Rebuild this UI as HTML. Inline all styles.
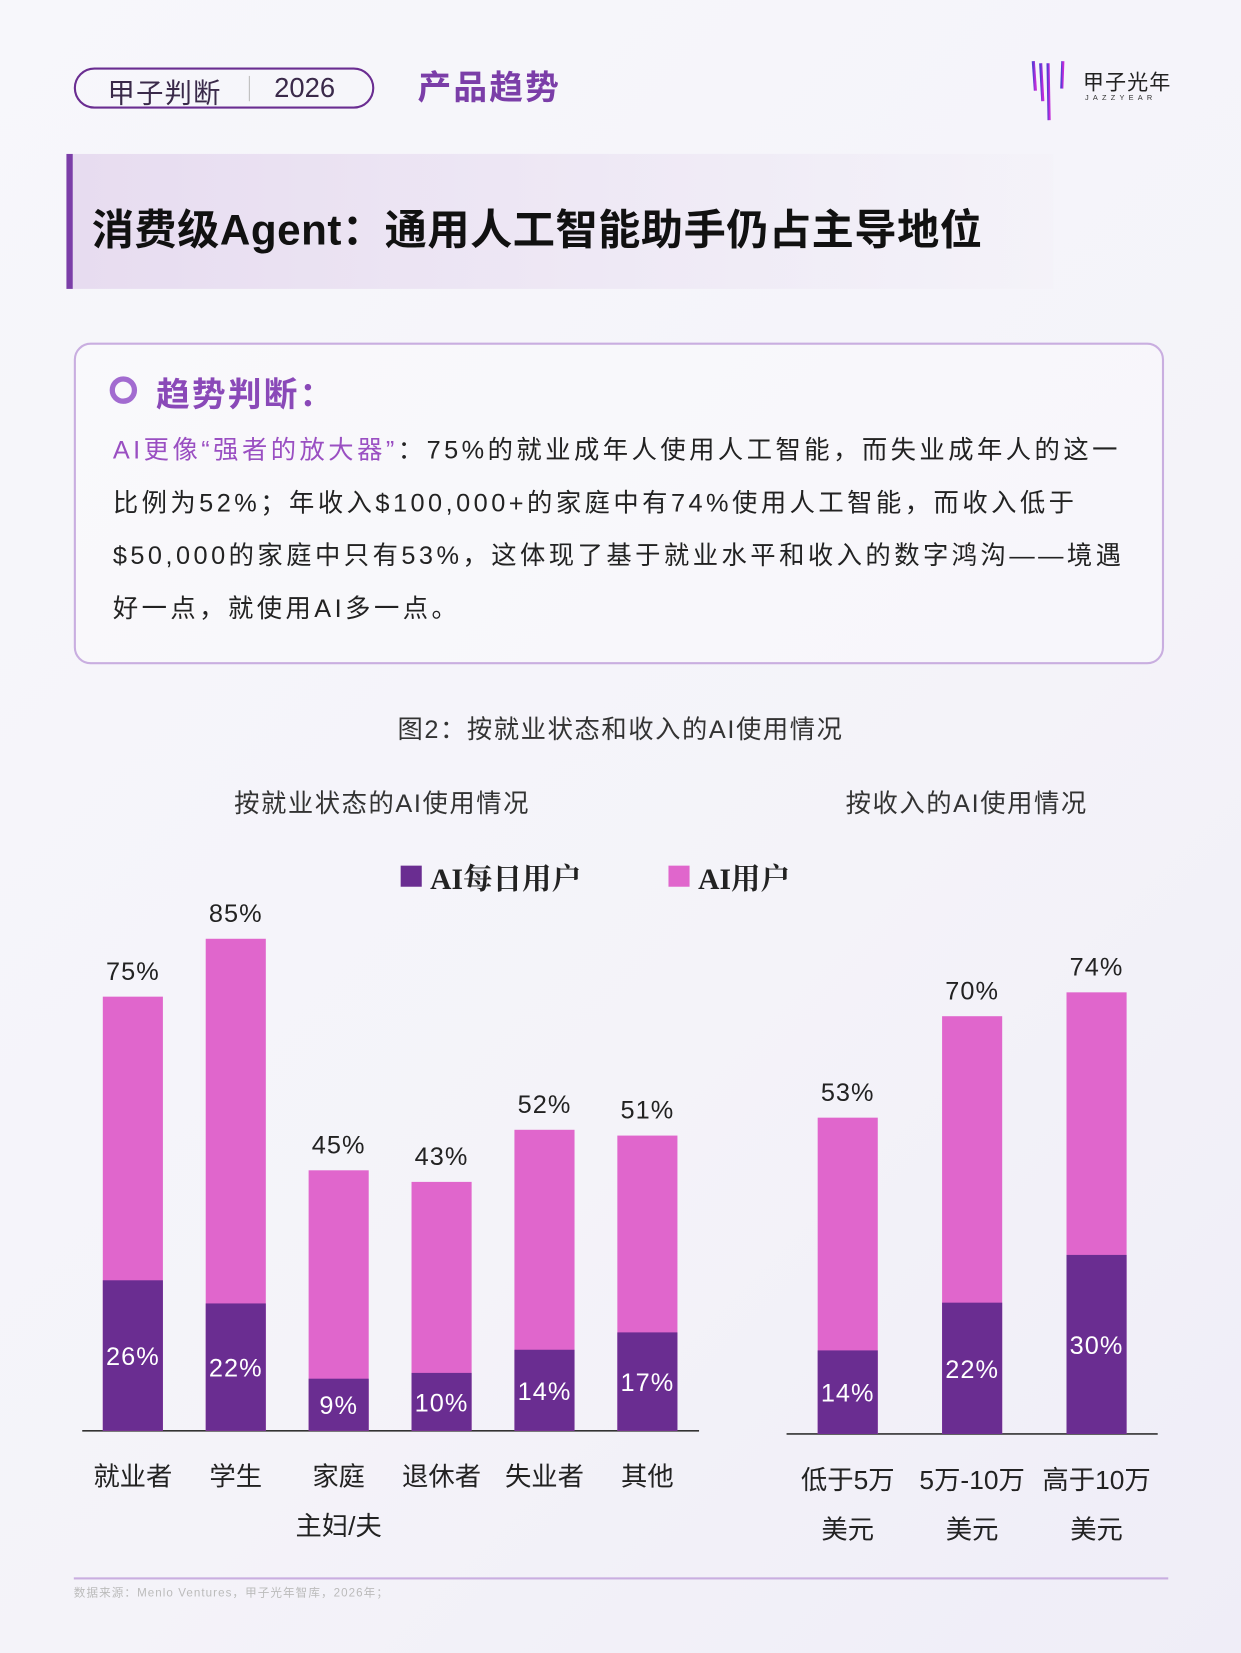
<!DOCTYPE html>
<html><head><meta charset="utf-8">
<style>
html,body{margin:0;padding:0;width:1241px;height:1653px;overflow:hidden;background:#f6f5fa;}
#page{position:absolute;left:0;top:0;width:1177px;height:1568px;transform:scale(1.05438);transform-origin:0 0;
background:linear-gradient(135deg,#f7f7fb 0%,#f4f3f9 60%,#efedf7 100%);font-family:"Liberation Sans","Noto Sans CJK SC",sans-serif;color:#222;}
.abs{position:absolute;}
</style></head><body>
<div id="page">
  <div class="abs" style="left:70px;top:64px;width:285px;height:39px;border:2px solid #6a2d91;border-radius:20px;box-sizing:border-box;">
    <span class="abs" style="left:30px;top:2px;font-size:26px;color:#3a2a4a;letter-spacing:1px;">甲子判断</span>
    <span class="abs" style="left:164px;top:6px;width:1px;height:24px;background:#bbb;"></span>
    <span class="abs" style="left:188px;top:2px;font-size:26px;color:#3a2a4a;">2026</span>
  </div>
  <div class="abs" style="left:396px;top:58px;font-size:32px;font-weight:bold;color:#7b3ea8;letter-spacing:2px;">产品趋势</div>
  <div class="abs" style="left:975px;top:56px;width:140px;height:60px;">
    <svg width="50" height="60" class="abs" style="left:0;top:0">
      <defs><linearGradient id="lg" x1="0" x2="1"><stop offset="0" stop-color="#5a3bd6"/><stop offset="1" stop-color="#c42bd8"/></linearGradient></defs>
      <g stroke="url(#lg)" stroke-width="3"><line x1="5" y1="2" x2="7" y2="30"/><line x1="12" y1="4" x2="14" y2="40"/><line x1="19" y1="4" x2="20" y2="58"/><line x1="26" y1="4" x2="26" y2="40"/><line x1="33" y1="2" x2="32" y2="28"/></g>
    </svg>
    <span class="abs" style="left:52px;top:6px;font-size:20px;color:#222;letter-spacing:1px;">甲子光年</span>
    <span class="abs" style="left:54px;top:34px;font-size:7px;letter-spacing:4px;color:#333;">JAZZYEAR</span>
  </div>
  <div class="abs" style="left:63px;top:146px;width:930px;height:128px;background:linear-gradient(90deg,#e7dcf0,rgba(240,236,246,0.2));border-left:6px solid #7b3ea8;">
    <div class="abs" style="left:18px;top:40px;font-size:40px;font-weight:bold;color:#111;letter-spacing:0.5px;">消费级Agent：通用人工智能助手仍占主导地位</div>
  </div>
  <div class="abs" style="left:70px;top:325px;width:1034px;height:305px;border:2px solid #c9aee0;border-radius:16px;box-sizing:border-box;background:rgba(255,255,255,0.3);">
    <div class="abs" style="left:32px;top:30px;width:26px;height:26px;border:5px solid #a26bd0;border-radius:50%;box-sizing:border-box;"></div>
    <div class="abs" style="left:76px;top:22px;font-size:32px;font-weight:bold;color:#8a49b8;letter-spacing:2px;">趋势判断：</div>
    <div class="abs" style="left:35px;top:76px;width:1000px;font-size:24px;line-height:50px;color:#222;letter-spacing:3.3px;white-space:nowrap;"><span style="color:#9a4fc2">AI更像“强者的放大器”</span>：75%的就业成年人使用人工智能，而失业成年人的这一<br>比例为52%；年收入$100,000+的家庭中有74%使用人工智能，而收入低于<br>$50,000的家庭中只有53%，这体现了基于就业水平和收入的数字鸿沟——境遇<br>好一点，就使用AI多一点。</div>
  </div>
  <div class="abs" style="left:0;width:1177px;top:672px;text-align:center;font-size:24px;color:#333;letter-spacing:1.5px;">图2：按就业状态和收入的AI使用情况</div>
  <div class="abs" style="left:222px;top:742px;font-size:24px;color:#333;letter-spacing:1.5px;">按就业状态的AI使用情况</div>
  <div class="abs" style="left:802px;top:742px;font-size:24px;color:#333;letter-spacing:1.5px;">按收入的AI使用情况</div>
  <div class="abs" style="left:380px;top:812px;font-size:28px;font-family:'Liberation Serif','Noto Serif CJK SC',serif;font-weight:bold;color:#222;">
    <span><span style="display:inline-block;width:20px;height:20px;background:#6a2d91;vertical-align:2px;margin-right:8px"></span>AI每日用户</span>
    <span style="margin-left:76px"><span style="display:inline-block;width:20px;height:20px;background:#e066cc;vertical-align:2px;margin-right:8px"></span>AI用户</span>
  </div>
  <svg id="chart" class="abs" style="left:0;top:0" width="1177" height="1568"></svg>
  <div class="abs" style="left:70px;top:1496px;width:1038px;height:2px;background:#c9aee0;"></div>
  <div class="abs" style="left:70px;top:1502px;font-size:11px;color:#bbb;letter-spacing:1px;">数据来源：Menlo Ventures，甲子光年智库，2026年；</div>
</div>
<script>
const empCats=[["就业者"],["学生"],["家庭","主妇/夫"],["退休者"],["失业者"],["其他"]];
const empUsers=[75,85,45,43,52,51];
const empDaily=[26,22,9,10,14,17];
const incCats=[["低于5万","美元"],["5万-10万","美元"],["高于10万","美元"]];
const incUsers=[53,70,74];
const incDaily=[14,22,30];
const svg=document.getElementById('chart');
const NS='http://www.w3.org/2000/svg';
function mk(t,a){const e=document.createElementNS(NS,t);for(const k in a)e.setAttribute(k,a[k]);svg.appendChild(e);return e;}
function draw(cats,users,daily,x0,step,base,ppu,axL,axR,prefix){
  const yv=v=>base-v*ppu;
  const ax=mk('line',{x1:axL,x2:axR,y1:base,y2:base,stroke:'#333','stroke-width':1.5});
  
  
  cats.forEach((c,i)=>{
    const cx=x0+i*step,w=57;
    const r1=mk('rect',{x:cx-w/2,y:yv(users[i]),width:w,height:base-yv(users[i]),fill:'#e066cc'});
    
    
    const r2=mk('rect',{x:cx-w/2,y:yv(daily[i]),width:w,height:base-yv(daily[i]),fill:'#6a2d91'});
    
    
    const t1=mk('text',{x:cx,y:yv(users[i])-16,'text-anchor':'middle','font-size':24,fill:'#222','letter-spacing':1});
    t1.textContent=users[i]+'%';
    
    
    const t2=mk('text',{x:cx,y:(yv(daily[i])+base)/2+9,'text-anchor':'middle','font-size':24,fill:'#fff','letter-spacing':1});
    t2.textContent=daily[i]+'%';
    
    
    c.forEach((line,j)=>{
      const t=mk('text',{x:cx,y:base+52+j*47,'text-anchor':'middle','font-size':25,fill:'#222'});
      t.textContent=line;
      
      
    });
  });
}
draw(empCats,empUsers,empDaily,126,97.6,1357,5.49,78,663,'employment');
draw(incCats,incUsers,incDaily,804,118,1360,5.66,746,1098,'income');
</script>
</body></html>
